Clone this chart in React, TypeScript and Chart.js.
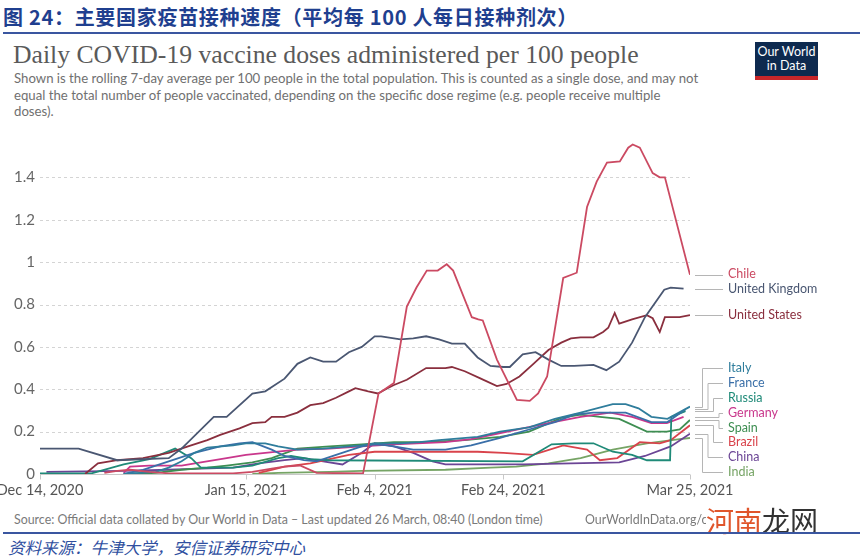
import React, { useEffect, useRef } from 'react';
import { Chart, registerables } from 'chart.js';

Chart.register(...registerables);

// ---------- data ----------
const X_TICK_DAYS = [0, 32, 52, 72, 101]; // days after Dec 14, 2020
const X_TICK_LABELS = ['Dec 14, 2020', 'Jan 15, 2021', 'Feb 4, 2021', 'Feb 24, 2021', 'Mar 25, 2021'];
const Y_TICKS = [0, 0.2, 0.4, 0.6, 0.8, 1, 1.2, 1.4];
const Y_TICK_LABELS = ['0', '0.2', '0.4', '0.6', '0.8', '1', '1.2', '1.4'];

const CHILE_DAYS = [10, 12, 14, 17, 20, 30, 33, 36, 38, 40.4, 43, 50.2, 52.6, 55, 57, 58.5, 60.1, 61.8, 63.2, 64.2, 67.1, 68.1, 68.8, 71, 74.1, 76.1, 77.4, 78.8, 81.3, 83.4, 85, 86.5, 88.1, 90.1, 91.4, 92.1, 93.2, 95.2, 96.3, 97.1, 101];
const CHILE = [0.005, 0.015, 0.02, 0.01, 0.003, 0.003, 0.01, 0.025, 0.035, 0.04, 0.005, 0.003, 0.38, 0.43, 0.79, 0.88, 0.96, 0.96, 0.99, 0.96, 0.74, 0.73, 0.725, 0.54, 0.35, 0.345, 0.38, 0.46, 0.925, 0.95, 1.26, 1.38, 1.47, 1.475, 1.54, 1.555, 1.54, 1.42, 1.4, 1.4, 0.94];

const UK_DAYS = [0, 6, 12, 20, 22, 27, 29, 33, 35, 38, 40, 42, 44, 46, 48, 50, 52, 53, 56, 58, 60, 62, 64, 66, 68, 70, 72, 73, 75, 77, 79, 81, 83, 86, 88, 90, 92, 94, 97, 98, 100];
const UK = [0.12, 0.12, 0.065, 0.075, 0.12, 0.27, 0.27, 0.38, 0.39, 0.45, 0.52, 0.55, 0.53, 0.53, 0.575, 0.6, 0.65, 0.65, 0.635, 0.64, 0.65, 0.635, 0.615, 0.615, 0.55, 0.51, 0.505, 0.505, 0.565, 0.575, 0.54, 0.51, 0.51, 0.515, 0.49, 0.53, 0.62, 0.74, 0.87, 0.88, 0.875];

const US_DAYS = [7, 9, 12, 16, 20, 23, 26, 28, 31, 33, 35, 36, 38, 40, 42, 44, 46, 48, 49, 51, 52.5, 54, 55, 57, 60, 63, 64, 66, 68.5, 71, 72.5, 74.5, 76.5, 79, 81, 82.5, 84, 86, 87.5, 88.3, 89.3, 90, 92, 94.3, 95.2, 96.3, 97.1, 99.4, 101];
const US = [0, 0.05, 0.065, 0.075, 0.1, 0.13, 0.16, 0.185, 0.215, 0.24, 0.245, 0.27, 0.27, 0.29, 0.325, 0.335, 0.36, 0.39, 0.405, 0.39, 0.38, 0.405, 0.42, 0.445, 0.5, 0.5, 0.505, 0.485, 0.45, 0.415, 0.425, 0.46, 0.515, 0.585, 0.62, 0.64, 0.645, 0.645, 0.67, 0.69, 0.76, 0.71, 0.73, 0.75, 0.735, 0.67, 0.74, 0.74, 0.75];

const ITALY_DAYS = [13, 18, 20, 22, 24, 26, 30, 32, 35, 37, 40, 44, 50, 52, 56, 59, 62, 68, 71.5, 76, 80, 84, 89, 91, 93, 95, 97.5, 101];
const ITALY = [0, 0.01, 0.03, 0.06, 0.1, 0.125, 0.135, 0.145, 0.145, 0.13, 0.115, 0.12, 0.135, 0.145, 0.145, 0.15, 0.16, 0.175, 0.2, 0.22, 0.26, 0.29, 0.33, 0.33, 0.31, 0.27, 0.26, 0.318];

const FRANCE_DAYS = [13, 16, 20, 24, 28, 31, 33, 36, 38, 41, 43, 46, 50, 52, 54, 58, 63, 67, 71.5, 76, 80, 83, 86, 91, 95, 97.5, 100.3];
const FRANCE = [0, 0.02, 0.06, 0.1, 0.13, 0.145, 0.15, 0.115, 0.085, 0.065, 0.06, 0.09, 0.13, 0.14, 0.135, 0.115, 0.115, 0.135, 0.17, 0.21, 0.245, 0.28, 0.29, 0.29, 0.245, 0.245, 0.305];

const RUSSIA_DAYS = [0, 8, 13, 17, 21, 23.5, 25, 30, 33, 37, 39, 42, 45, 75, 79.5, 83, 86, 89, 92, 94.3, 97.9, 98.1, 100.3];
const RUSSIA = [0.003, 0.003, 0.045, 0.07, 0.12, 0.075, 0.03, 0.03, 0.04, 0.075, 0.085, 0.07, 0.065, 0.06, 0.14, 0.145, 0.145, 0.105, 0.09, 0.065, 0.065, 0.27, 0.297];

const GERMANY_DAYS = [13, 14, 17, 22, 25, 29, 32, 35, 40, 45, 50, 55, 63, 67, 71, 75, 79, 84, 88.6, 92, 95, 97.4, 100];
const GERMANY = [0.005, 0.035, 0.04, 0.04, 0.055, 0.075, 0.09, 0.1, 0.115, 0.12, 0.13, 0.14, 0.15, 0.165, 0.19, 0.215, 0.24, 0.27, 0.29, 0.27, 0.24, 0.24, 0.27];

const SPAIN_DAYS = [13, 18, 22, 26, 29, 33, 36, 40, 45, 50, 55, 60, 66, 71.5, 76, 81, 84, 87, 90, 94.3, 97.4, 99.4, 101];
const SPAIN = [0, 0.005, 0.02, 0.03, 0.04, 0.055, 0.075, 0.12, 0.13, 0.14, 0.15, 0.15, 0.16, 0.175, 0.2, 0.265, 0.28, 0.27, 0.26, 0.2, 0.2, 0.21, 0.255];

const BRAZIL_DAYS = [34, 36, 38, 42, 45, 48, 52, 63, 68, 72, 76.6, 81.3, 85, 87, 89.7, 93.2, 96.3, 98, 101];
const BRAZIL = [0.005, 0.02, 0.035, 0.05, 0.07, 0.09, 0.105, 0.105, 0.105, 0.1, 0.09, 0.135, 0.115, 0.065, 0.075, 0.15, 0.145, 0.16, 0.23];

const CHINA_DAYS = [1, 13, 20, 25, 30, 34, 38, 41, 44, 47, 50, 52, 55, 58, 61, 63, 75, 90, 94, 98, 101];
const CHINA = [0.01, 0.015, 0.02, 0.025, 0.03, 0.05, 0.065, 0.075, 0.06, 0.045, 0.1, 0.145, 0.13, 0.1, 0.06, 0.045, 0.045, 0.055, 0.085, 0.13, 0.19];

const INDIA_DAYS = [33, 37, 45, 50, 63, 70, 74, 79, 84, 89, 94.3, 99.4, 101];
const INDIA = [0, 0.005, 0.01, 0.015, 0.02, 0.03, 0.035, 0.05, 0.075, 0.115, 0.145, 0.165, 0.17];

const SERIES = [
  { name: 'Chile', days: CHILE_DAYS, values: CHILE, color: '#CB4A62' },
  { name: 'United Kingdom', days: UK_DAYS, values: UK, color: '#4A5772' },
  { name: 'United States', days: US_DAYS, values: US, color: '#8A2F3E' },
  { name: 'Italy', days: ITALY_DAYS, values: ITALY, color: '#2F7D9C' },
  { name: 'France', days: FRANCE_DAYS, values: FRANCE, color: '#3A6FA8' },
  { name: 'Russia', days: RUSSIA_DAYS, values: RUSSIA, color: '#1F8A78' },
  { name: 'Germany', days: GERMANY_DAYS, values: GERMANY, color: '#C9378C' },
  { name: 'Spain', days: SPAIN_DAYS, values: SPAIN, color: '#3E8E52' },
  { name: 'Brazil', days: BRAZIL_DAYS, values: BRAZIL, color: '#D9434B' },
  { name: 'China', days: CHINA_DAYS, values: CHINA, color: '#6B4595' },
  { name: 'India', days: INDIA_DAYS, values: INDIA, color: '#76A465' },
];

const FONT = 'Lato, "Noto Sans", sans-serif';

const owidPlugin = {
  id: 'owidDecor',
  beforeDatasetsDraw(chart: any) {
    const { ctx, chartArea, scales } = chart;
    const xs = scales.x;
    const ys = scales.y;
    ctx.save();
    ctx.lineWidth = 1;
    ctx.strokeStyle = '#d4d4d4';
    ctx.setLineDash([3, 3]);
    Y_TICKS.forEach((v) => {
      if (v === 0) return;
      const py = Math.round(ys.getPixelForValue(v)) + 0.5;
      ctx.beginPath();
      ctx.moveTo(chartArea.left, py);
      ctx.lineTo(chartArea.right, py);
      ctx.stroke();
    });
    ctx.setLineDash([]);
    const by = Math.round(ys.getPixelForValue(0)) + 0.5;
    ctx.strokeStyle = '#c8c8c8';
    ctx.beginPath();
    ctx.moveTo(chartArea.left, by);
    ctx.lineTo(chartArea.right, by);
    ctx.stroke();
    X_TICK_DAYS.forEach((d) => {
      const px = Math.round(xs.getPixelForValue(d)) + 0.5;
      ctx.beginPath();
      ctx.moveTo(px, by);
      ctx.lineTo(px, by + 5);
      ctx.stroke();
    });
    ctx.fillStyle = '#666';
    ctx.font = '15px ' + FONT;
    ctx.textAlign = 'right';
    ctx.textBaseline = 'middle';
    Y_TICKS.forEach((v, i) => {
      ctx.fillText(Y_TICK_LABELS[i], chartArea.left - 5, ys.getPixelForValue(v));
    });
    ctx.font = '14.5px ' + FONT;
    ctx.fillStyle = '#555';
    ctx.textAlign = 'center';
    ctx.textBaseline = 'top';
    X_TICK_DAYS.forEach((d, i) => {
      ctx.fillText(X_TICK_LABELS[i], xs.getPixelForValue(d), by + 9);
    });
    ctx.restore();
  },
  afterDatasetsDraw(chart: any) {
    const { ctx, chartArea, scales } = chart;
    const ys = scales.y;
    const spacing = 14.8;
    const items = SERIES.map((s, idx) => ({
      idx,
      target: ys.getPixelForValue(s.values[s.values.length - 1]),
    })).sort((a, b) => a.target - b.target);
    let clusters = items.map((it) => ({ members: [it], center: it.target }));
    let merged = true;
    while (merged) {
      merged = false;
      for (let i = 0; i < clusters.length - 1; i++) {
        const a = clusters[i];
        const b = clusters[i + 1];
        const aBottom = a.center + (a.members.length * spacing) / 2;
        const bTop = b.center - (b.members.length * spacing) / 2;
        if (aBottom > bTop) {
          const members = a.members.concat(b.members);
          const center = members.reduce((s, m) => s + m.target, 0) / members.length;
          clusters.splice(i, 2, { members, center });
          merged = true;
          break;
        }
      }
    }
    ctx.save();
    ctx.font = '12.5px ' + FONT;
    ctx.textAlign = 'left';
    ctx.textBaseline = 'middle';
    const startX = chartArea.right + 5;
    const endX = chartArea.right + 33;
    const labelX = chartArea.right + 38;
    clusters.forEach((c) => {
      const n = c.members.length;
      c.members.forEach((m, i) => {
        const ly = c.center - ((n - 1) * spacing) / 2 + i * spacing;
        const k = Math.min(i, n - 1 - i);
        const vx = chartArea.right + 12 + k * 5.5;
        ctx.strokeStyle = '#b5b5b5';
        ctx.lineWidth = 1;
        ctx.beginPath();
        const ty = Math.round(m.target) + 0.5;
        const lyr = Math.round(ly) + 0.5;
        ctx.moveTo(startX, ty);
        if (Math.abs(ly - m.target) > 1.5) {
          ctx.lineTo(vx + 0.5, ty);
          ctx.lineTo(vx + 0.5, lyr);
          ctx.lineTo(endX, lyr);
        } else {
          ctx.lineTo(endX, ty);
        }
        ctx.stroke();
        ctx.fillStyle = SERIES[m.idx].color;
        ctx.fillText(SERIES[m.idx].name, labelX, ly);
      });
    });
    ctx.restore();
  },
};

function VaccineChart() {
  const ref = useRef<HTMLCanvasElement | null>(null);
  useEffect(() => {
    if (!ref.current) return;
    const chart = new Chart(ref.current, {
      type: 'line',
      data: {
        datasets: SERIES.map((s) => ({
          label: s.name,
          data: s.days.map((d, i) => ({ x: d, y: s.values[i] })),
          borderColor: s.color,
          backgroundColor: s.color,
          borderWidth: 1.8,
          pointRadius: 0,
          fill: false,
          tension: 0,
        })),
      },
      options: {
        animation: false,
        responsive: false,
        maintainAspectRatio: false,
        events: [],
        layout: { padding: { left: 40, right: 174, top: 5, bottom: 31 } },
        scales: {
          x: { type: 'linear', min: 0, max: 101, display: false },
          y: { type: 'linear', min: 0, max: 1.6, display: false },
        },
        plugins: { legend: { display: false }, tooltip: { enabled: false } },
      },
      plugins: [owidPlugin],
    } as any);
    return () => chart.destroy();
  }, []);
  return <canvas ref={ref} width={864} height={375} style={{ position: 'absolute', left: 0, top: 130, width: 864, height: 375 }} />;
}

export default function App() {
  const abs = (s: any) => ({ position: 'absolute' as const, whiteSpace: 'nowrap' as const, ...s });
  return (
    <div style={{ position: 'fixed', left: 0, top: 0, width: 864, height: 557, background: '#fff', overflow: 'hidden' }}>
      <div style={abs({ left: 3, top: 4, font: 'bold 20px "Noto Sans CJK SC", sans-serif', color: '#1F3F8F', lineHeight: '25px', letterSpacing: '0.7px' })}>
        图 24：主要国家疫苗接种速度（平均每 100 人每日接种剂次）
      </div>
      <div style={abs({ left: 3, top: 32, width: 857, height: 2, background: '#3A56A0' })} />
      <div style={abs({ left: 13, top: 40, font: '25.7px "Liberation Serif", serif', color: '#5a5a5a', lineHeight: '30px' })}>
        Daily COVID-19 vaccine doses administered per 100 people
      </div>
      <div style={abs({ left: 14, top: 70, font: '13.2px ' + FONT, color: '#707070', lineHeight: '16.5px' })}>
        Shown is the rolling 7-day average per 100 people in the total population. This is counted as a single dose, and may not
        <br />
        equal the total number of people vaccinated, depending on the specific dose regime (e.g. people receive multiple
        <br />
        doses).
      </div>
      <div style={abs({ left: 755, top: 42, width: 63, height: 38, background: '#0E2A4F', color: '#fff', textAlign: 'center', font: '12.5px ' + FONT, lineHeight: '14px', paddingTop: 3, boxSizing: 'border-box' })}>
        Our World
        <br />
        in Data
        <div style={{ position: 'absolute', left: 0, bottom: 0, width: 63, height: 4, background: '#C8262A' }} />
      </div>
      <VaccineChart />
      <div style={abs({ left: 14, top: 512, font: '12.4px ' + FONT, color: '#7a7a7a', lineHeight: '16px' })}>
        Source: Official data collated by Our World in Data – Last updated 26 March, 08:40 (London time)
      </div>
      <div style={abs({ left: 585, top: 512, font: '12.4px ' + FONT, color: '#7a7a7a', lineHeight: '16px' })}>
        OurWorldInData.org/coronavirus
      </div>
      <div style={abs({ left: 706, top: 503, font: '28px "Noto Sans CJK SC", sans-serif', lineHeight: '34px', background: '#fff', paddingRight: 2 })}>
        <span style={{ color: '#E0552B' }}>河南</span>
        <span style={{ color: '#333' }}>龙网</span>
      </div>
      <div style={abs({ left: 3, top: 532, width: 857, height: 2, background: '#3A56A0' })} />
      <div style={abs({ left: 8, top: 537, font: 'italic 16.5px "Noto Sans CJK SC", sans-serif', color: '#2F4F9F', lineHeight: '20px' })}>
        资料来源：牛津大学，安信证券研究中心
      </div>
    </div>
  );
}
